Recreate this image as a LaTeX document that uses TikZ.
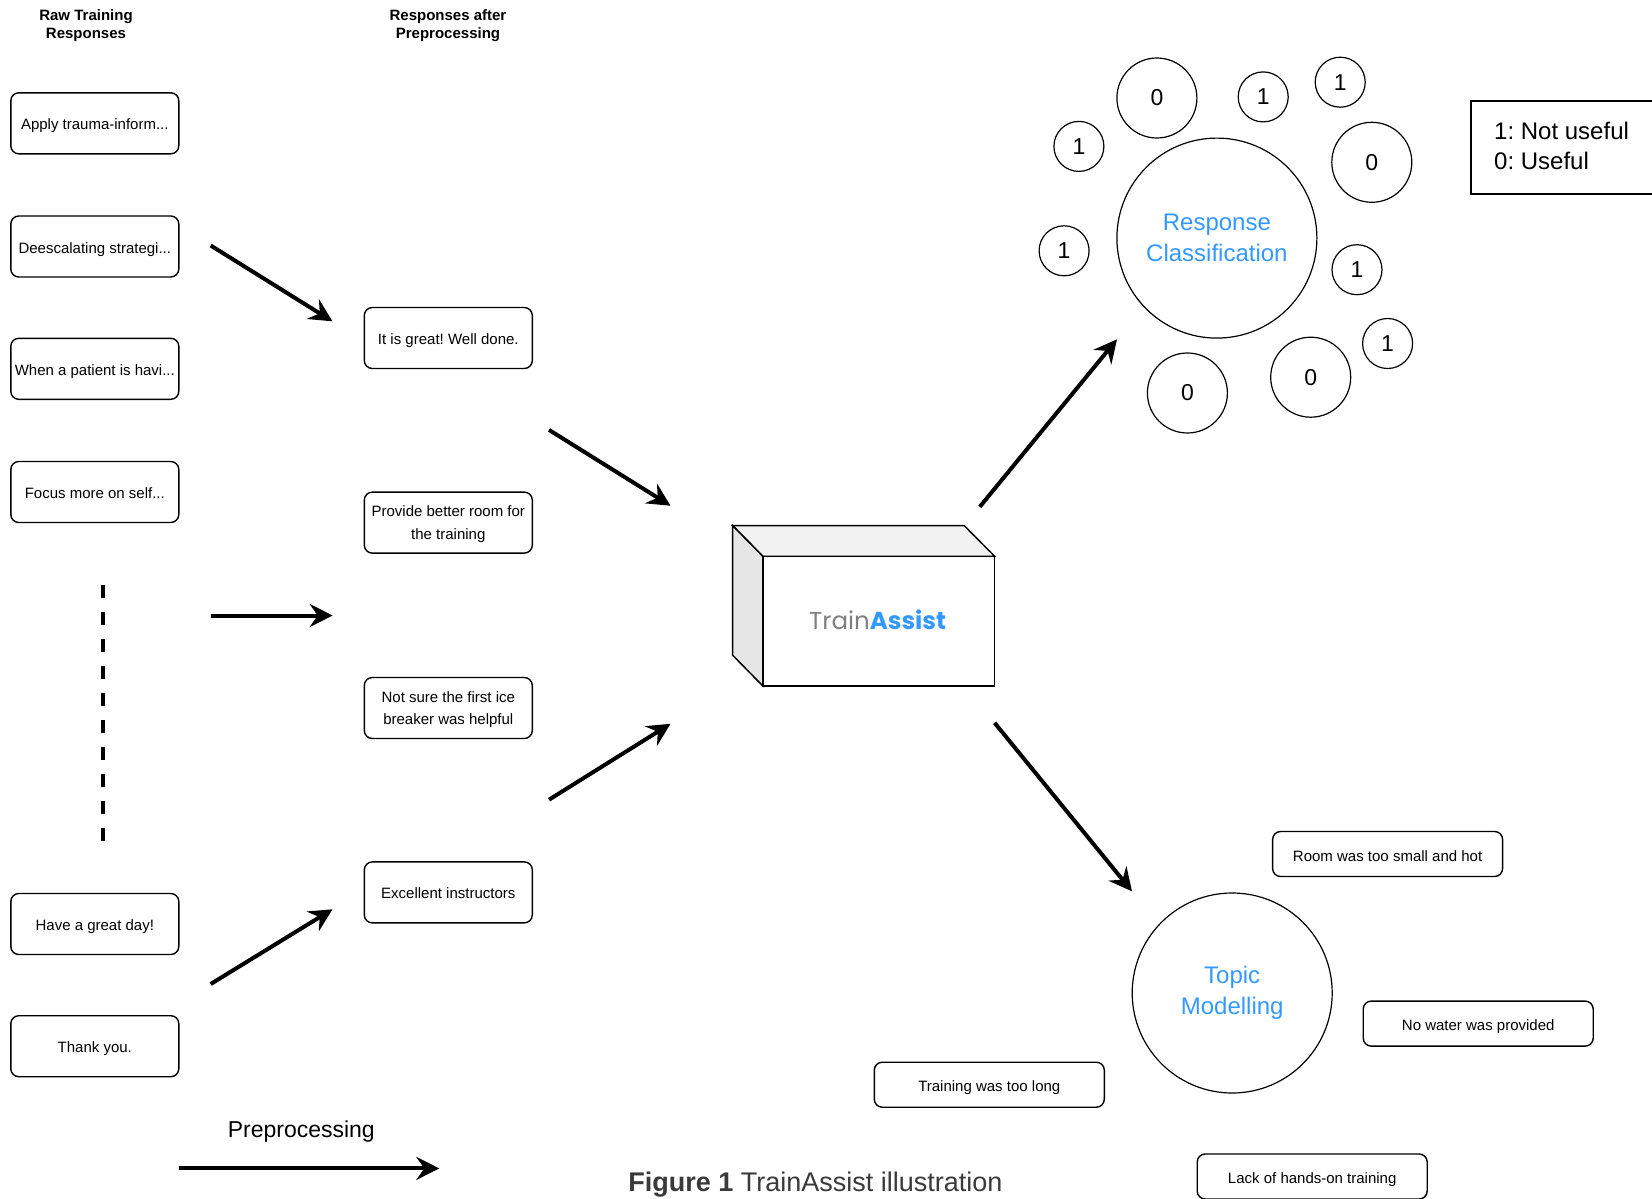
\documentclass[tikz,border=0pt]{standalone}
\usepackage{fontspec}
\setmainfont{Liberation Sans}
\newfontfamily\logofont{Poppins}
\usetikzlibrary{arrows.meta}
\definecolor{clsblue}{RGB}{51,153,255}
\definecolor{logogray}{RGB}{128,128,128}
\definecolor{capgray}{RGB}{58,58,58}
\frenchspacing
\begin{document}
\begin{tikzpicture}[x=1pt,y=-1pt]
\tikzstyle{every node}+=[inner sep=0pt]
\tikzstyle{card}=[draw,rounded corners=8pt,line width=1.4pt,minimum width=168pt,minimum height=61pt,align=center,font=\fontsize{15}{22.5}\selectfont]
\tikzstyle{resp}=[card,text height=13pt,text depth=0pt]
\tikzstyle{resp2}=[card,text depth=-2pt]
\tikzstyle{topic}=[draw,rounded corners=8pt,line width=1.4pt,minimum width=230pt,minimum height=45pt,text height=14pt,text depth=0pt,font=\fontsize{15}{18}\selectfont]
\tikzstyle{head}=[align=center,font=\fontsize{15}{18}\selectfont\bfseries]
\tikzstyle{tag}=[draw,circle,line width=1.2pt,font=\fontsize{23}{23}\selectfont]
\tikzstyle{hub}=[draw,circle,line width=1.2pt,minimum size=200pt,align=center,text=clsblue,font=\fontsize{24}{30.6}\selectfont]
\tikzstyle{flow}=[line width=4pt,-{Stealth[length=23pt,width=23pt,inset=8pt]}]
\useasboundingbox (0,0) rectangle (1652,1199);
\node [head] (rawhead) at (86,25.5) {Raw Training\\Responses};
\node [head] (prehead) at (448,25.5) {Responses after\\Preprocessing};
\node [resp] (raw1) at (94.8,123.3) {Apply trauma-inform...};
\node [resp] (raw2) at (94.8,246.5) {Deescalating strategi...};
\node [resp] (raw3) at (94.8,368.8) {When a patient is havi...};
\node [resp] (raw4) at (94.8,492) {Focus more on self...};
\node [resp] (raw5) at (94.8,924) {Have a great day!};
\node [resp] (raw6) at (94.8,1046.2) {Thank you.};
\draw [line width=4pt,dash pattern=on 13pt off 14pt] (102.5,585) -- (102.5,848);
\node [resp] (pre1) at (448.3,338) {It is great! Well done.};
\node [resp2] (pre2) at (448.3,522.6) {Provide better room for\\the training};
\node [resp2] (pre3) at (448.3,708) {Not sure the first ice\\breaker was helpful};
\node [resp] (pre4) at (448.3,892.4) {Excellent instructors};
\coordinate (a1s) at (210.7,245.5); \coordinate (a1e) at (332.5,321.3);
\coordinate (a2s) at (210.7,615.5); \coordinate (a2e) at (332.7,615.5);
\coordinate (a3s) at (210.7,984); \coordinate (a3e) at (332.5,909.3);
\coordinate (b1s) at (549,429.9); \coordinate (b1e) at (670.5,505.7);
\coordinate (b2s) at (549,799.7); \coordinate (b2e) at (670.5,723.8);
\coordinate (c1s) at (979.8,506.8); \coordinate (c1e) at (1117,339.3);
\coordinate (c2s) at (994.6,722.8); \coordinate (c2e) at (1132,891.3);
\coordinate (p1s) at (179,1168.4); \coordinate (p1e) at (439.3,1168.4);
\draw [flow] (a1s) -- (a1e);
\draw [flow] (a2s) -- (a2e);
\draw [flow] (a3s) -- (a3e);
\draw [flow] (b1s) -- (b1e);
\draw [flow] (b2s) -- (b2e);
\draw [flow] (c1s) -- (c1e);
\draw [flow] (c2s) -- (c2e);
\draw [flow] (p1s) -- (p1e);
\node [font=\fontsize{23}{23}\selectfont] (prelabel) at (301.3,1131.5) {Preprocessing};
\draw [line width=1.5pt,fill={rgb,255:red,242;green,242;blue,242}] (732.7,525.7) -- (964.3,525.7) -- (994.6,556.3) -- (762.8,556.3) -- cycle;
\draw [line width=1.5pt,fill={rgb,255:red,230;green,230;blue,230}] (732.7,525.7) -- (762.8,556.3) -- (762.8,685.9) -- (732.7,655.3) -- cycle;
\node [draw,line width=1.5pt,fill=white,minimum width=231.8pt,minimum height=129.6pt] (engine) at (878.7,621.1) {};
\node [font=\logofont\fontsize{24.5}{24.5}\selectfont] (logo) at (877.6,619.5) {\textcolor{logogray}{Train}\textcolor{clsblue}{\bfseries Assist}};
\node [hub] (classify) at (1216.9,238.1) {Response\\Classification};
\node [tag,minimum size=80pt] (t1) at (1156.9,98) {0};
\node [tag,minimum size=50pt] (t2) at (1263.2,96.9) {1};
\node [tag,minimum size=50pt] (t3) at (1340.2,82.2) {1};
\node [tag,minimum size=80pt] (t4) at (1371.8,162.3) {0};
\node [tag,minimum size=50pt] (t5) at (1078.9,146.4) {1};
\node [tag,minimum size=50pt] (t6) at (1064.1,250.8) {1};
\node [tag,minimum size=50pt] (t7) at (1357,269.7) {1};
\node [tag,minimum size=50pt] (t8) at (1387.6,343.5) {1};
\node [tag,minimum size=80pt] (t9) at (1310.7,377.2) {0};
\node [tag,minimum size=80pt] (t10) at (1187.4,393) {0};
\draw [line width=1.5pt] (1670,101.1) -- (1470.8,101.1) -- (1470.8,193.9) -- (1670,193.9);
\node [anchor=west,align=left,font=\fontsize{24}{30.6}\selectfont] (key) at (1494,146) {1: Not useful\\0: Useful};
\node [hub] (topics) at (1232.2,993) {Topic\\Modelling};
\node [topic] (tp1) at (1387.6,854) {Room was too small and hot};
\node [topic] (tp2) at (1478.2,1023.6) {No water was provided};
\node [topic] (tp3) at (989.3,1084.7) {Training was too long};
\node [topic] (tp4) at (1312.2,1176.5) {Lack of hands-on training};
\node [text=capgray,font=\fontsize{27}{27}\selectfont] (caption) at (815.5,1185) {\textbf{Figure 1} TrainAssist illustration};
\end{tikzpicture}
\end{document}
